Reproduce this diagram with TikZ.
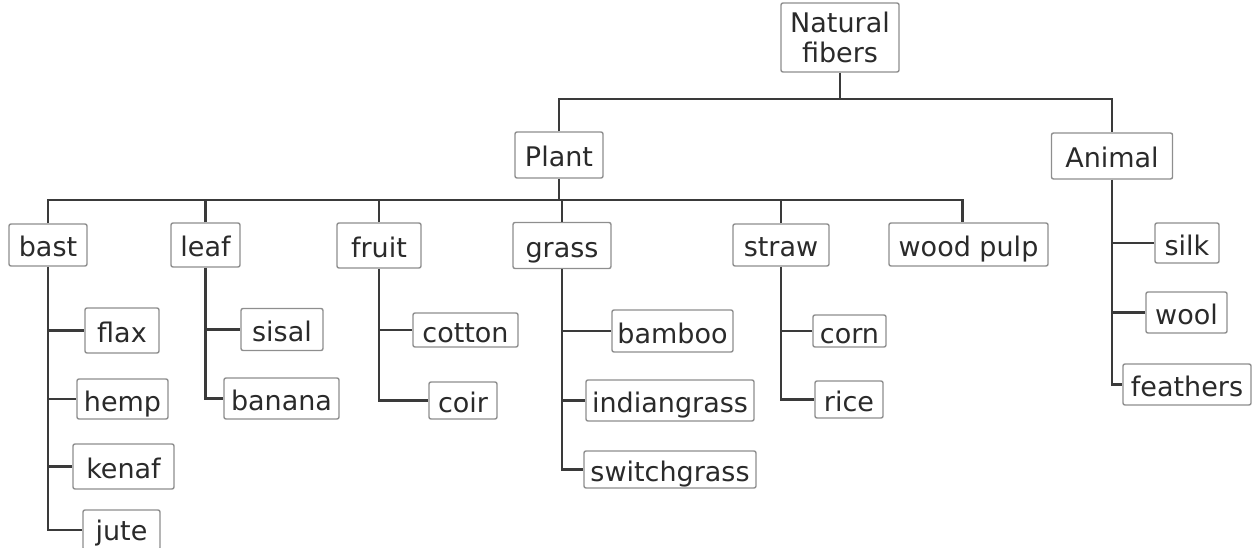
\documentclass[tikz,border=0pt]{standalone}
\usepackage{fontspec}
\setmainfont{DejaVu Sans}
\usetikzlibrary{positioning}
\usetikzlibrary{calc}
\definecolor{boxgray}{HTML}{8E8E8E}
\definecolor{linegray}{HTML}{3A3A3A}
\definecolor{textgray}{HTML}{2A2A2A}
\tikzstyle{fiber} = [draw=boxgray, rectangle, rounded corners=2pt, line width=1.4pt, text=textgray, font=\fontsize{27}{30}\selectfont, inner xsep=5pt, inner ysep=0pt, text height=24pt, text depth=0pt, minimum height=42pt]
\tikzstyle{link} = [draw=linegray, line width=2.2pt]
\tikzstyle{coord} = [coordinate]

\begin{document}
\begin{tikzpicture}[x=1pt,y=-1pt]
    \useasboundingbox (0,0) rectangle (1256,548);
    % top levels
    \node [fiber, align=center, text height=, text depth=, minimum width=118pt, minimum height=69pt] (natural) at (840,37.5) {Natural\\fibers};
    \node [fiber, minimum width=88pt, minimum height=46pt] (plant) at (559,155) {Plant};
    \node [fiber, minimum width=121pt, minimum height=46pt] (animal) at (1112,156) {Animal};
    \node [coord] (top) at (0,99) {};
    \node [coord] (mid) at (0,200) {};

    % plant groups
    \node [fiber, minimum width=78pt] (bast) at (48,245) {bast};
    \node [fiber, minimum width=69pt, minimum height=44pt] (leaf) at (205.5,245) {leaf};
    \node [fiber, minimum width=84pt, minimum height=45pt] (fruit) at (379,245.5) {fruit};
    \node [fiber, minimum width=98pt, minimum height=46pt] (grass) at (562,245.5) {grass};
    \node [fiber, minimum width=96pt] (straw) at (781,245) {straw};
    \node [fiber, minimum width=159pt, minimum height=43pt] (pulp) at (968.5,244.5) {wood pulp};

    % leaves
    \node [fiber, minimum width=74pt, minimum height=45pt] (flax) at (122,330.5) {flax};
    \node [fiber, minimum width=91pt, minimum height=40pt] (hemp) at (122.5,399) {hemp};
    \node [fiber, minimum width=101pt, minimum height=45pt] (kenaf) at (123.5,466.5) {kenaf};
    \node [fiber, text height=20pt, minimum width=77pt, minimum height=40pt] (jute) at (121.5,530) {jute};
    \node [fiber, minimum width=82pt] (sisal) at (282,329.5) {sisal};
    \node [fiber, minimum width=115pt, minimum height=41pt] (banana) at (281.5,398.5) {banana};
    \node [fiber, minimum width=105pt, minimum height=34pt] (cotton) at (465.5,330) {cotton};
    \node [fiber, minimum width=68pt, minimum height=37pt] (coir) at (463,400.5) {coir};
    \node [fiber, minimum width=121pt] (bamboo) at (672.5,331) {bamboo};
    \node [fiber, minimum width=168pt, minimum height=41pt] (indian) at (670,400.5) {indiangrass};
    \node [fiber, minimum width=172pt, minimum height=37pt] (switch) at (670,469.5) {switchgrass};
    \node [fiber, minimum width=73pt, minimum height=32pt] (corn) at (849.5,331) {corn};
    \node [fiber, minimum width=68pt, minimum height=37pt] (rice) at (849,399.5) {rice};
    \node [fiber, minimum width=64pt, minimum height=40pt] (silk) at (1187,243) {silk};
    \node [fiber, minimum width=81pt, minimum height=41pt] (wool) at (1186.5,312.5) {wool};
    \node [fiber, minimum width=128pt, minimum height=41pt] (feathers) at (1187,384.5) {feathers};

    % connectors
    \draw [link] (natural.south) -- (natural.south |- top);
    \draw [link] (plant.north) -- (plant.north |- top) -| (animal.north);
    \draw [link] (plant.south) -- (plant.south |- mid);
    \draw [link] (bast.north) -- (bast.north |- mid) -| ([xshift=-6pt]pulp.north);
    \foreach \g in {leaf,fruit,grass,straw}
        \draw [link] (\g.north) -- (\g.north |- mid);

    \draw [link] (bast.south) |- (jute.west);
    \foreach \f in {flax,hemp,kenaf}
        \draw [link] (bast.south |- \f.west) -- (\f.west);
    \draw [link] (leaf.south) |- (banana.west);
    \draw [link] (leaf.south |- sisal.west) -- (sisal.west);
    \draw [link] (fruit.south) |- (coir.west);
    \draw [link] (fruit.south |- cotton.west) -- (cotton.west);
    \draw [link] (grass.south) |- (switch.west);
    \foreach \f in {bamboo,indian}
        \draw [link] (grass.south |- \f.west) -- (\f.west);
    \draw [link] (straw.south) |- (rice.west);
    \draw [link] (straw.south |- corn.west) -- (corn.west);
    \draw [link] (animal.south) |- (feathers.west);
    \foreach \f in {silk,wool}
        \draw [link] (animal.south |- \f.west) -- (\f.west);
\end{tikzpicture}
\end{document}
